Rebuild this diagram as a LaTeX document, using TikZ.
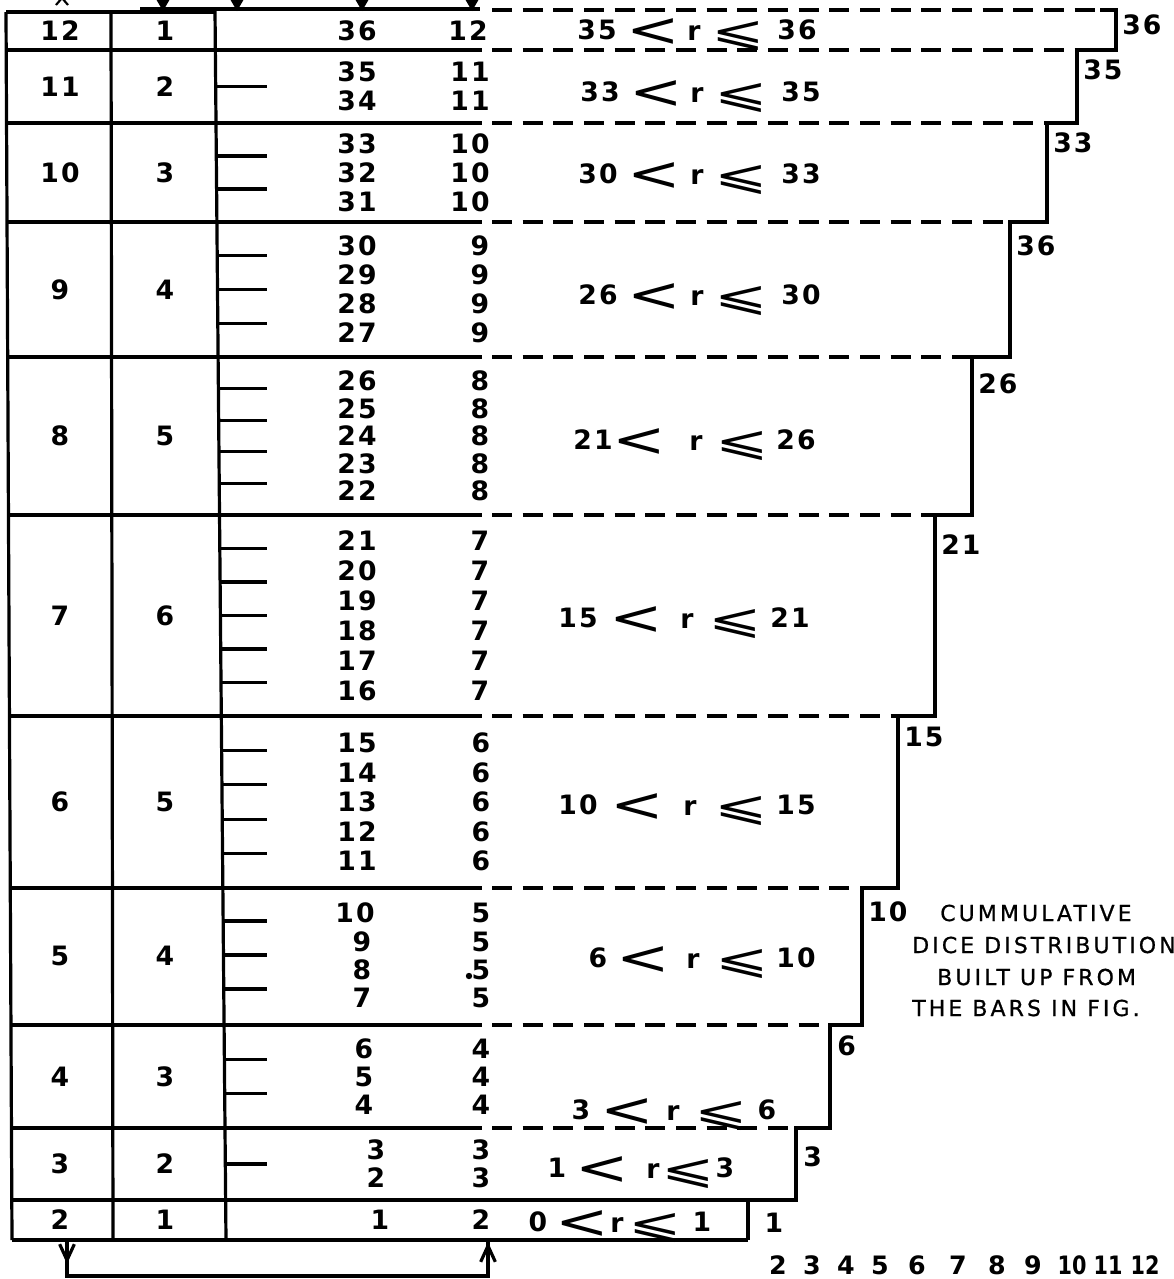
\documentclass[tikz,border=0pt]{standalone}
\usepackage{fontspec}
\setmainfont{DejaVu Sans}
\newfontfamily\numfont{DejaVu Sans}[LetterSpace=8]
\newfontfamily\axfont{DejaVu Sans}
\newfontfamily\capfont{DejaVu Sans}[LetterSpace=14,FakeBold=0.8]
\usetikzlibrary{arrows.meta}
\tikzset{
  ln/.style={line width=2.4pt},
  dsh/.style={line width=2.4pt, dash pattern=on 15pt off 8pt},
  num/.style={font=\numfont\bfseries\fontsize{20}{22}\selectfont, inner sep=0pt},
  axnum/.style={font=\axfont\bfseries\fontsize{19}{21}\selectfont, inner sep=0pt},
  rsym/.style={font=\axfont\bfseries\fontsize{20}{22}\selectfont, inner sep=0pt},
  ltsym/.style={font=\axfont\fontsize{20}{22}\selectfont, inner sep=0pt},
  captxt/.style={font=\capfont\fontsize{16.5}{18}\selectfont, inner sep=0pt, anchor=west},
}
\newcommand\myrange[9]{%
  \node[num] (#1n) at (#3,#2) {#4};
  \node[ltsym] (#1l) at (#5,#2+3) {\scalebox{2.4}[1.8]{<}};
  \node[rsym] (#1r) at (#6,#2+3.5) {r};
  \node[ltsym] (#1e) at (#7,#2+6) {\scalebox{2.4}[1.55]{⩽}};
  \node[num] (#1m) at (#8,#2) {#9};
}
\begin{document}
\begin{tikzpicture}[x=0.75pt,y=-0.75pt]
\useasboundingbox (0,0) rectangle (1174,1279);
% table verticals
\draw[ln] (6,12) -- (12,1240);
\draw[ln] (111,10) -- (113,1240);
\draw[ln] (215,10) -- (226,1240);
% top border and arrow line
\draw[ln] (6,12) -- (215,12);
\draw[ln] (140,9) -- (480,9);
\draw[dsh] (492,10) -- (1100,10);
\foreach \x/\nm in {163/ta,237/tb,362/tc,472/td}{
  \coordinate (\nm) at (\x,11);
  \fill (\x-7,-1) -- (\x+7,-1) -- (\nm) -- cycle;
}
\draw[line width=1.6pt] (56,5) -- (62,-2) -- (68,5);
% row boundaries: y / x of step of the lower row
\foreach \y/\xs in {50/1077,123/1047,222/1010,357/972,515/935,716/898,888/862,1025/830,1128/796}{
  \pgfmathsetmacro\xl{6+0.00489*(\y-12)}
  \draw[ln] (\xl,\y) -- (482,\y);
  \draw[dsh] (492,\y) -- (\xs,\y);
}
\draw[ln] (11.8,1200) -- (796,1200);
\draw[ln] (12,1240) -- (748,1240);
% staircase
\draw[ln] (1100,10) -- (1116,10) -- (1116,50) -- (1077,50) -- (1077,123) -- (1047,123)
  -- (1047,222) -- (1010,222) -- (1010,357) -- (972,357) -- (972,515) -- (935,515)
  -- (935,716) -- (898,716) -- (898,888) -- (862,888) -- (862,1025) -- (830,1025)
  -- (830,1128) -- (796,1128) -- (796,1200) -- (748,1200) -- (748,1240);
% rows: top/bottom/left/mid/n/rstart/sum/rx/sx/spacing/i
\foreach \tp/\bt/\a/\b/\n/\rs/\sm/\rx/\sx/\sp/\i in {
  12/50/12/1/1/36/12/357/468/29/r12,
  50/123/11/2/2/35/11/357/470/29/r11,
  123/222/10/3/3/33/10/357/470/29/r10,
  222/357/9/4/4/30/9/357/480/29/r9,
  357/515/8/5/5/26/8/357/480/27.5/r8,
  515/716/7/6/6/21/7/357/480/30/r7,
  716/888/6/5/5/15/6/357/481/29.5/r6,
  1025/1128/4/3/3/6/4/364/481/28/r4,
  1128/1200/3/2/2/3/3/376/481/28/r3,
  1200/1240/2/1/1/1/2/380/481/29/r2}{
  \pgfmathsetmacro\c{(\tp+\bt)/2}
  \node[num] (\i a) at (60,\c) {\a};
  \node[num] (\i b) at (165,\c) {\b};
  \foreach \k in {1,...,\n}{
    \pgfmathtruncatemacro\v{\rs-\k+1}
    \pgfmathsetmacro\yy{\c+(\k-(\n+1)/2)*\sp}
    \node[num] (\i v\k) at (\rx,\yy) {\v};
    \node[num] (\i s\k) at (\sx,\yy) {\sm};
  }
  \ifnum\n>1
  \pgfmathtruncatemacro\nm{\n-1}
  \foreach \k in {1,...,\nm}{
    \pgfmathsetmacro\yt{\tp+\k*(\bt-\tp)/\n}
    \pgfmathsetmacro\xt{215+0.00896*(\yt-12)}
    \draw[ln] (\xt,\yt) -- (267,\yt);
  }
  \fi
}
% row 5 (10..7)
\node[num] (r5a) at (60,956) {5};
\node[num] (r5b) at (165,956) {4};
\foreach \v/\yy/\xx in {10/913/355,9/942/362,8/970/362,7/998/362}{
  \node[num] (r5v\v) at (\xx,\yy) {\v};
  \node[num] (r5s\v) at (481,\yy) {5};
}
\fill (469,976) circle (2.4pt);
\foreach \yt in {921,955,989}{
  \pgfmathsetmacro\xt{215+0.00896*(\yt-12)}
  \draw[ln] (\xt,\yt) -- (267,\yt);
}
% range labels
\myrange{g12}{30}{597}{35}{653}{694}{738}{797}{36}
\myrange{g11}{92}{600}{33}{656}{697}{741}{801}{35}
\myrange{g10}{174}{598}{30}{654}{697}{741}{801}{33}
\myrange{g9}{295}{598}{26}{654}{697}{741}{801}{30}
\myrange{g8}{440}{593}{21}{639}{696}{742}{796}{26}
\myrange{g7}{618}{578}{15}{636}{687}{735}{790}{21}
\myrange{g6}{805}{578}{10}{637}{690}{741}{796}{15}
\myrange{g5}{958}{598}{6}{643}{693}{742}{796}{10}
\myrange{g4}{1110}{581}{3}{627}{673}{721}{767}{6}
\myrange{g3}{1168}{557}{1}{602}{653}{688}{725}{3}
\myrange{g2}{1222}{538}{0}{582}{617}{655}{702}{1}
% step labels
\foreach \x/\y/\t/\nm in {1122/25/36/p1,1083/70/35/p2,1053/143/33/p3,1016/246/36/p4,978/384/26/p5,
  941/545/21/p6,904/737/15/p7,868/912/10/p8,837/1046/6/p9,803/1157/3/p10}{
  \node[num,anchor=west] (\nm) at (\x,\y) {\t};
}
\node[num] (p11) at (774,1223) {1};
% axis labels
\foreach \x/\t/\nm in {778/2/q2,812/3/q3,846/4/q4,880/5/q5,917/6/q6,958/7/q7,997/8/q8,1033/9/q9}{
  \node[axnum] (\nm) at (\x,1265) {\t};
}
\foreach \x/\t/\nm in {1072/10/q10,1108/11/q11,1145/12/q12}{
  \node[axnum] (\nm) at (\x,1265) {\scalebox{0.82}[1]{\t}};
}
% caption
\node[captxt] (c1) at (940,913) {CUMMULATIVE};
\node[captxt] (c2) at (912,945) {DICE DISTRIBUTION};
\node[captxt] (c3) at (937,977) {BUILT UP FROM};
\node[captxt] (c4) at (912,1008) {THE BARS IN FIG.};
% bottom connector
\coordinate (ba) at (67,1240);
\coordinate (bb) at (488,1242);
\draw[ln] (ba) -- (67,1276) -- (488,1276) -- (bb);
\draw[ln,-{Straight Barb[length=12pt,width=11pt]}] (ba) -- (67,1264);
\draw[ln,-{Straight Barb[length=12pt,width=11pt]}] (488,1270) -- (bb);
\end{tikzpicture}
\end{document}
